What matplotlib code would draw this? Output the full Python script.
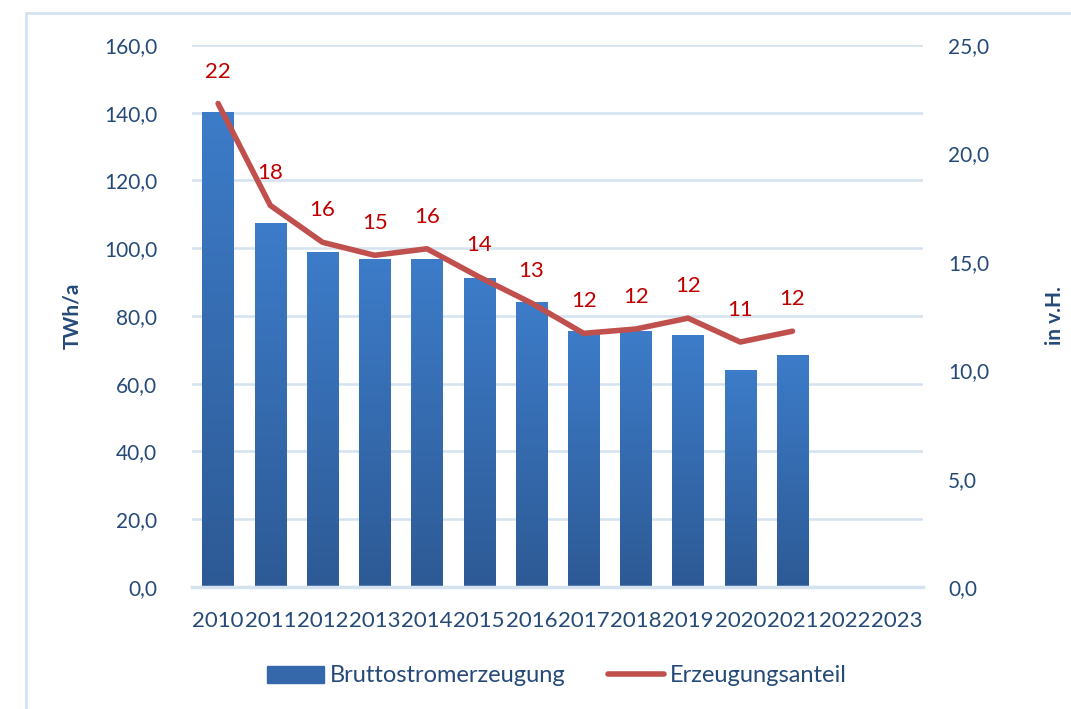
import numpy as np
import matplotlib
matplotlib.use("Agg")
import matplotlib.pyplot as plt
from matplotlib.patches import Rectangle
from matplotlib.ticker import FuncFormatter, MultipleLocator
from matplotlib.colors import LinearSegmentedColormap

plt.rcParams['font.family'] = ['Lato', 'DejaVu Sans']

years = ["2010", "2011", "2012", "2013", "2014", "2015", "2016",
         "2017", "2018", "2019", "2020", "2021", "2022", "2023"]
erzeugung = [140.3, 107.4, 98.9, 96.9, 96.7, 91.3, 84.1, 75.6, 75.6, 74.5, 64.1, 68.4]  # TWh/a
anteil = [22.3, 17.6, 15.9, 15.3, 15.6, 14.3, 13.1, 11.7, 11.9, 12.4, 11.3, 11.8]  # in v.H.

NAVY = "#254a78"
GRID = "#d5e2f0"
RED_LINE = "#c0504d"
RED_TXT = "#c00000"

fig = plt.figure(figsize=(10.71, 7.09), dpi=100)
ax = fig.add_axes([192 / 1071, 122 / 709, 731 / 1071, 542 / 709])
ax2 = ax.twinx()

x = np.arange(len(years))
n = len(erzeugung)
bars = ax.bar(x[:n], erzeugung, width=0.6, color="none", zorder=2)

# vertical gradient inside each bar
cmap = LinearSegmentedColormap.from_list("bg", ["#2d5a95", "#3d7cc9"])
grad = np.linspace(0, 1, 256).reshape(-1, 1)
for b in bars:
    x0, w, h = b.get_x(), b.get_width(), b.get_height()
    im = ax.imshow(grad, cmap=cmap, origin="lower", aspect="auto",
                   extent=[x0, x0 + w, 0, h], zorder=2)
    im.set_clip_path(b)

ax.set_xlim(-0.5, len(years) - 0.5)
ax.set_ylim(0, 160)
ax.yaxis.set_major_locator(MultipleLocator(20))
ax.yaxis.set_major_formatter(FuncFormatter(lambda v, p: f"{v:.1f}".replace(".", ",")))
ax.grid(axis="y", color=GRID, lw=1.8, zorder=0)
ax.set_axisbelow(True)
for s in ["top", "left", "right"]:
    ax.spines[s].set_visible(False)
    ax2.spines[s].set_visible(False)
ax.spines["bottom"].set_color(GRID)
ax.spines["bottom"].set_linewidth(2.5)
ax2.spines["bottom"].set_visible(False)

ax.set_xticks(x)
ax.set_xticklabels(years)
ax.tick_params(axis="x", length=0, pad=17, labelsize=16, labelcolor=NAVY)
ax.tick_params(axis="y", length=0, pad=25, labelsize=15, labelcolor=NAVY)
ax.set_ylabel("TWh/a", fontsize=15, fontweight="bold", color=NAVY, labelpad=16)

ax2.plot(x[:n], anteil, color=RED_LINE, lw=4, solid_capstyle="round", zorder=3)
ax2.set_ylim(0, 25)
ax2.yaxis.set_major_locator(MultipleLocator(5))
ax2.yaxis.set_major_formatter(FuncFormatter(lambda v, p: f"{v:.1f}".replace(".", ",")))
ax2.tick_params(axis="y", length=0, pad=18, labelsize=15, labelcolor=NAVY)
ax2.set_ylabel("in v.H.", fontsize=15, fontweight="bold", color=NAVY, labelpad=40)

for xi, v in zip(x[:n], anteil):
    ax2.annotate(f"{v:.0f}", (xi, v), xytext=(0, 23), textcoords="offset points",
                 ha="center", va="center", color=RED_TXT, fontsize=16)

# legend
leg_bar = Rectangle((0, 0), 1, 1, color="#3568ab")
leg_line = plt.Line2D([0], [0], color=RED_LINE, lw=4, solid_capstyle="round")
fig.legend([leg_bar, leg_line], ["Bruttostromerzeugung", "Erzeugungsanteil"],
           loc="center", bbox_to_anchor=(557 / 1071, 1 - 676 / 709), ncol=2,
           frameon=False, fontsize=17, labelcolor=NAVY, handlelength=2.4,
           handletextpad=0.25, columnspacing=1.8)

# outer frame
fig.patches.append(Rectangle((26 / 1071, -0.1), 1.2, 1.1 - 13 / 709, transform=fig.transFigure,
                             fill=False, edgecolor=GRID, lw=2))

fig.savefig("out.png", dpi=100)
